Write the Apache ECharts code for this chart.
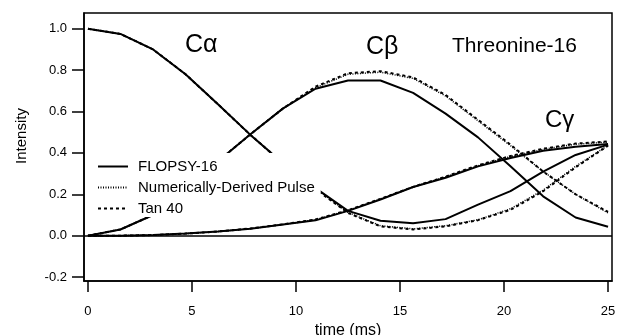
<!DOCTYPE html>
<html>
<head>
<meta charset="utf-8">
<script src="https://cdn.jsdelivr.net/npm/echarts@6/dist/echarts.min.js"></script>
<style>
  html, body { margin: 0; padding: 0; background: #fff; }
  #chart { width: 618px; height: 335px; }
</style>
</head>
<body>
<div id="chart"></div>
<script>
// time points (ms)
const time = [0, 1.56, 3.13, 4.69, 6.25, 7.81, 9.38, 10.94, 12.5, 14.06, 15.63, 17.19, 18.75, 20.31, 21.88, 23.44, 25]

const methods = ['FLOPSY-16', 'Numerically-Derived Pulse', 'Tan 40']

// C alpha
const flopsyCa = [1.0, 0.975, 0.9, 0.78, 0.635, 0.487, 0.35, 0.23, 0.12, 0.072, 0.06, 0.08, 0.15, 0.215, 0.31, 0.39, 0.44]
const numericCa = [1.0, 0.975, 0.9, 0.78, 0.635, 0.487, 0.35, 0.228, 0.112, 0.048, 0.033, 0.048, 0.077, 0.13, 0.22, 0.335, 0.437]
const tanCa = [1.0, 0.975, 0.9, 0.78, 0.635, 0.487, 0.35, 0.225, 0.11, 0.045, 0.03, 0.045, 0.075, 0.125, 0.215, 0.33, 0.435]

// C beta
const flopsyCb = [0, 0.03, 0.1, 0.22, 0.36, 0.49, 0.615, 0.71, 0.75, 0.75, 0.69, 0.59, 0.475, 0.335, 0.19, 0.088, 0.043]
const numericCb = [0, 0.03, 0.1, 0.22, 0.36, 0.49, 0.615, 0.715, 0.78, 0.79, 0.76, 0.675, 0.555, 0.435, 0.31, 0.2, 0.11]
const tanCb = [0, 0.03, 0.1, 0.22, 0.36, 0.49, 0.615, 0.72, 0.785, 0.795, 0.765, 0.68, 0.56, 0.44, 0.31, 0.2, 0.115]

// C gamma
const flopsyCg = [0, 0, 0.003, 0.01, 0.02, 0.033, 0.054, 0.074, 0.12, 0.175, 0.235, 0.28, 0.335, 0.375, 0.41, 0.43, 0.443]
const numericCg = [0, 0, 0.003, 0.01, 0.02, 0.034, 0.054, 0.077, 0.122, 0.177, 0.235, 0.284, 0.338, 0.382, 0.417, 0.442, 0.452]
const tanCg = [0, 0, 0.003, 0.01, 0.02, 0.035, 0.055, 0.078, 0.123, 0.178, 0.236, 0.285, 0.34, 0.385, 0.42, 0.445, 0.455]

const xTicks = [0, 5, 10, 15, 20, 25]
const yTicks = [-0.2, 0, 0.2, 0.4, 0.6, 0.8, 1.0]

const font = 'Arial, "Liberation Sans", Helvetica, sans-serif'

const styles = {
  'FLOPSY-16': { type: 'solid', width: 2 },
  'Numerically-Derived Pulse': { type: [1, 1.5], width: 1.5 },
  'Tan 40': { type: [3, 3], width: 2 },
}

function pairs(values) {
  return time.map((t, i) => [t, values[i]])
}

function line(name, values, extra) {
  return Object.assign({
    name,
    type: 'line',
    data: pairs(values),
    symbol: 'none',
    silent: true,
    animation: false,
    lineStyle: Object.assign({ color: '#000' }, styles[name]),
    itemStyle: { color: '#000' },
  }, extra || {})
}

const series = [
  line('Tan 40', tanCa),
  line('Tan 40', tanCb),
  line('Tan 40', tanCg),
  line('Numerically-Derived Pulse', numericCa),
  line('Numerically-Derived Pulse', numericCb),
  line('Numerically-Derived Pulse', numericCg),
  line('FLOPSY-16', flopsyCa, {
    markLine: {
      silent: true,
      symbol: 'none',
      label: { show: false },
      lineStyle: { color: '#000', type: 'solid', width: 1.5 },
      data: [{ yAxis: 0 }],
    },
  }),
  line('FLOPSY-16', flopsyCb),
  line('FLOPSY-16', flopsyCg),
]

const chart = echarts.init(document.getElementById('chart'), null, { renderer: 'canvas' })

chart.setOption({
  animation: false,
  backgroundColor: '#fff',
  grid: {
    left: 84,
    right: 6,
    top: 13,
    bottom: 54,
    outerBoundsMode: 'none',
    containLabel: false,
    show: true,
    borderColor: '#000',
    borderWidth: 1.5,
    backgroundColor: 'transparent',
  },
  legend: {
    data: methods,
    orient: 'vertical',
    align: 'left',
    left: 86,
    top: 153,
    padding: [6, 6, 1, 11],
    itemWidth: 30,
    itemHeight: 14,
    itemGap: 6,
    backgroundColor: '#fff',
    z: 10,
    selectedMode: false,
    itemStyle: { color: 'transparent', borderWidth: 0, opacity: 0 },
    textStyle: { fontFamily: font, fontSize: 15, color: '#000', padding: [0, 0, 0, 5] },
  },
  xAxis: {
    type: 'value',
    min: -0.19,
    max: 25.19,
    name: 'time (ms)',
    nameLocation: 'middle',
    nameGap: 40,
    nameTextStyle: { fontFamily: font, fontSize: 16, color: '#000' },
    splitLine: { show: false },
    axisLine: { show: true, onZero: false, lineStyle: { color: '#000', width: 1.5 } },
    axisTick: { show: true, inside: false, length: 11, lineStyle: { color: '#000', width: 1.5 }, customValues: xTicks },
    axisLabel: {
      margin: 24,
      fontFamily: font,
      fontSize: 13,
      color: '#000',
      customValues: xTicks,
      formatter: v => String(Math.round(v)),
    },
  },
  yAxis: {
    type: 'value',
    min: -0.219,
    max: 1.076,
    name: 'Intensity',
    nameLocation: 'middle',
    nameGap: 55,
    nameTextStyle: { fontFamily: font, fontSize: 15, color: '#000', padding: [0, 0, 0, 22] },
    splitLine: { show: false },
    axisLine: { show: true, onZero: false, lineStyle: { color: '#000', width: 1.5 } },
    axisTick: { show: true, inside: false, length: 12, lineStyle: { color: '#000', width: 1.5 }, customValues: yTicks },
    axisLabel: {
      margin: 17,
      fontFamily: font,
      fontSize: 13,
      color: '#000',
      customValues: yTicks,
      formatter: v => v.toFixed(1),
    },
  },
  graphic: [
    { type: 'text', left: 185, top: 33, z: 20, style: { text: 'Cα', font: '25px ' + font, fill: '#000' } },
    { type: 'text', left: 366, top: 35, z: 20, style: { text: 'Cβ', font: '25px ' + font, fill: '#000' } },
    { type: 'text', left: 452, top: 36, z: 20, style: { text: 'Threonine-16', font: '21px ' + font, fill: '#000' } },
    { type: 'text', left: 545, top: 108, z: 20, style: { text: 'Cγ', font: '24px ' + font, fill: '#000' } },
  ],
  series,
})
</script>
</body>
</html>
